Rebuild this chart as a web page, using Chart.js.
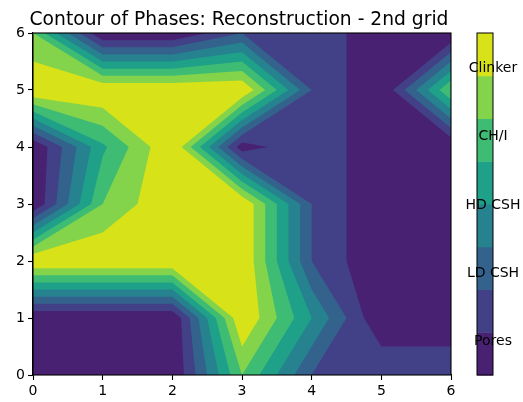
<!DOCTYPE html>
<html><head><meta charset="utf-8">
<script src="https://cdn.jsdelivr.net/npm/chart.js@4/dist/chart.umd.min.js"></script>
<style>html,body{margin:0;padding:0;background:#fff}</style>
</head><body>
<canvas id="c" width="523" height="402"></canvas>
<script>
// grid coordinates
const xValues = [0, 1, 2, 3, 4, 5, 6];
const yValues = [0, 1, 2, 3, 4, 5, 6];
// phase value at each grid node, one array per row (row0 = y 0 at the bottom)
const row0 = [0, 0,   0, 3,   1, 1, 1];
const row1 = [0, 0,   0, 4,   2, 0, 0];
const row2 = [4, 4,   4, 4,   1, 0, 0];
const row3 = [0, 3,   4, 4,   1, 0, 0];
const row4 = [0, 2.4, 4, 0.2, 1, 0, 0];
const row5 = [4, 4,   4, 4,   1, 0, 3];
const row6 = [3, 0,   0, 1,   1, 0, 0];
const zRows = [row0, row1, row2, row3, row4, row5, row6];
// contour levels and colours (viridis at band mid points)
const levels = [0, 0.5, 1, 1.5, 2, 2.5, 3, 3.5, 4];
const bandColors = ['#482173', '#424086', '#33638d', '#26828e', '#1fa088', '#3fbc73', '#84d44b', '#d8e219'];
// colour bar tick labels
const phaseNames = ['Pores', 'LD CSH', 'HD CSH', 'CH/I', 'Clinker'];
const phaseTicks = [0.4, 1.2, 2.0, 2.8, 3.6];
const titleText = 'Contour of Phases: Reconstruction - 2nd grid';
const FONT = '"DejaVu Sans", sans-serif';

const gridPoints = [];
yValues.forEach((y, j) => xValues.forEach((x, i) => gridPoints.push({x: x, y: y, z: zRows[j][i]})));

// part of a cell polygon where the (edge-linear) value is strictly above lo
function clipPoly(poly, lo) {
  const out = [];
  for (let i = 0; i < poly.length; i++) {
    const a = poly[i], b = poly[(i + 1) % poly.length];
    const ain = a[2] > lo, bin = b[2] > lo;
    if (ain) out.push(a);
    if (ain !== bin) {
      const t = (lo - a[2]) / (b[2] - a[2]);
      out.push([a[0] + t * (b[0] - a[0]), a[1] + t * (b[1] - a[1]), lo]);
    }
  }
  return out;
}

const contourPlugin = {
  id: 'contourf',
  beforeDatasetsDraw(chart) {
    const ctx = chart.ctx, xs = chart.scales.x, ys = chart.scales.y, a = chart.chartArea;
    ctx.save();
    ctx.beginPath();
    ctx.rect(a.left, a.top, a.right - a.left, a.bottom - a.top);
    ctx.clip();
    for (let k = 0; k < bandColors.length; k++) {
      const lo = levels[k];
      ctx.beginPath();
      for (let j = 0; j < yValues.length - 1; j++) {
        for (let i = 0; i < xValues.length - 1; i++) {
          const cell = [
            [xValues[i], yValues[j], zRows[j][i]],
            [xValues[i + 1], yValues[j], zRows[j][i + 1]],
            [xValues[i + 1], yValues[j + 1], zRows[j + 1][i + 1]],
            [xValues[i], yValues[j + 1], zRows[j + 1][i]]
          ];
          const p = k === 0 ? cell : clipPoly(cell, lo);
          if (p.length < 3) continue;
          p.forEach((pt, n) => {
            const px = xs.getPixelForValue(pt[0]), py = ys.getPixelForValue(pt[1]);
            if (n === 0) ctx.moveTo(px, py); else ctx.lineTo(px, py);
          });
          ctx.closePath();
        }
      }
      ctx.fillStyle = bandColors[k];
      ctx.fill('nonzero');
    }
    ctx.restore();
  },
  afterDraw(chart) {
    const ctx = chart.ctx, a = chart.chartArea, cb = chart.scales.cb;
    ctx.save();
    ctx.strokeStyle = '#000';
    ctx.lineWidth = 1.1;
    ctx.strokeRect(a.left, a.top, a.right - a.left, a.bottom - a.top);
    ctx.fillStyle = '#000';
    ctx.font = '18.7px ' + FONT;
    ctx.textAlign = 'center';
    ctx.textBaseline = 'alphabetic';
    ctx.fillText(titleText, (a.left + a.right) / 2 - 3, 25);
    const cbLeft = 477, cbRight = 493;
    for (let k = 0; k < bandColors.length; k++) {
      const y0 = cb.getPixelForValue(levels[k]), y1 = cb.getPixelForValue(levels[k + 1]);
      ctx.fillStyle = bandColors[k];
      ctx.fillRect(cbLeft, y1, cbRight - cbLeft, y0 - y1 + 0.5);
    }
    ctx.strokeStyle = '#000';
    ctx.lineWidth = 1;
    ctx.strokeRect(cbLeft, cb.getPixelForValue(4), cbRight - cbLeft, cb.getPixelForValue(0) - cb.getPixelForValue(4));
    ctx.fillStyle = '#000';
    ctx.font = '14px ' + FONT;
    ctx.textAlign = 'center';
    ctx.textBaseline = 'middle';
    phaseTicks.forEach((v, i) => ctx.fillText(phaseNames[i], cbRight, cb.getPixelForValue(v) + 1));
    ctx.restore();
  }
};

const axisCommon = {
  type: 'linear', min: 0, max: 6,
  ticks: {stepSize: 1, color: '#000', font: {family: 'DejaVu Sans', size: 14}, padding: 3, maxRotation: 0, autoSkip: false},
  grid: {drawOnChartArea: false, tickLength: 5, tickColor: '#000', tickWidth: 1.1},
  border: {color: '#000', width: 1.1}
};

new Chart(document.getElementById('c'), {
  type: 'scatter',
  data: {datasets: [{data: gridPoints, pointRadius: 0, pointHoverRadius: 0, borderWidth: 0}]},
  options: {
    responsive: false, animation: false, devicePixelRatio: 1,
    layout: {padding: {top: 33, right: 72, left: 0, bottom: 0}},
    plugins: {legend: {display: false}, tooltip: {enabled: false}, title: {display: false}},
    events: [],
    scales: {
      x: Object.assign({}, axisCommon, {position: 'bottom', afterFit: s => { s.height = 27; }}),
      y: Object.assign({}, axisCommon, {position: 'left', afterFit: s => { s.width = 33; }}),
      cb: {type: 'linear', min: 0, max: 4, display: false, position: 'right'}
    }
  },
  plugins: [contourPlugin]
});
</script>
</body></html>
